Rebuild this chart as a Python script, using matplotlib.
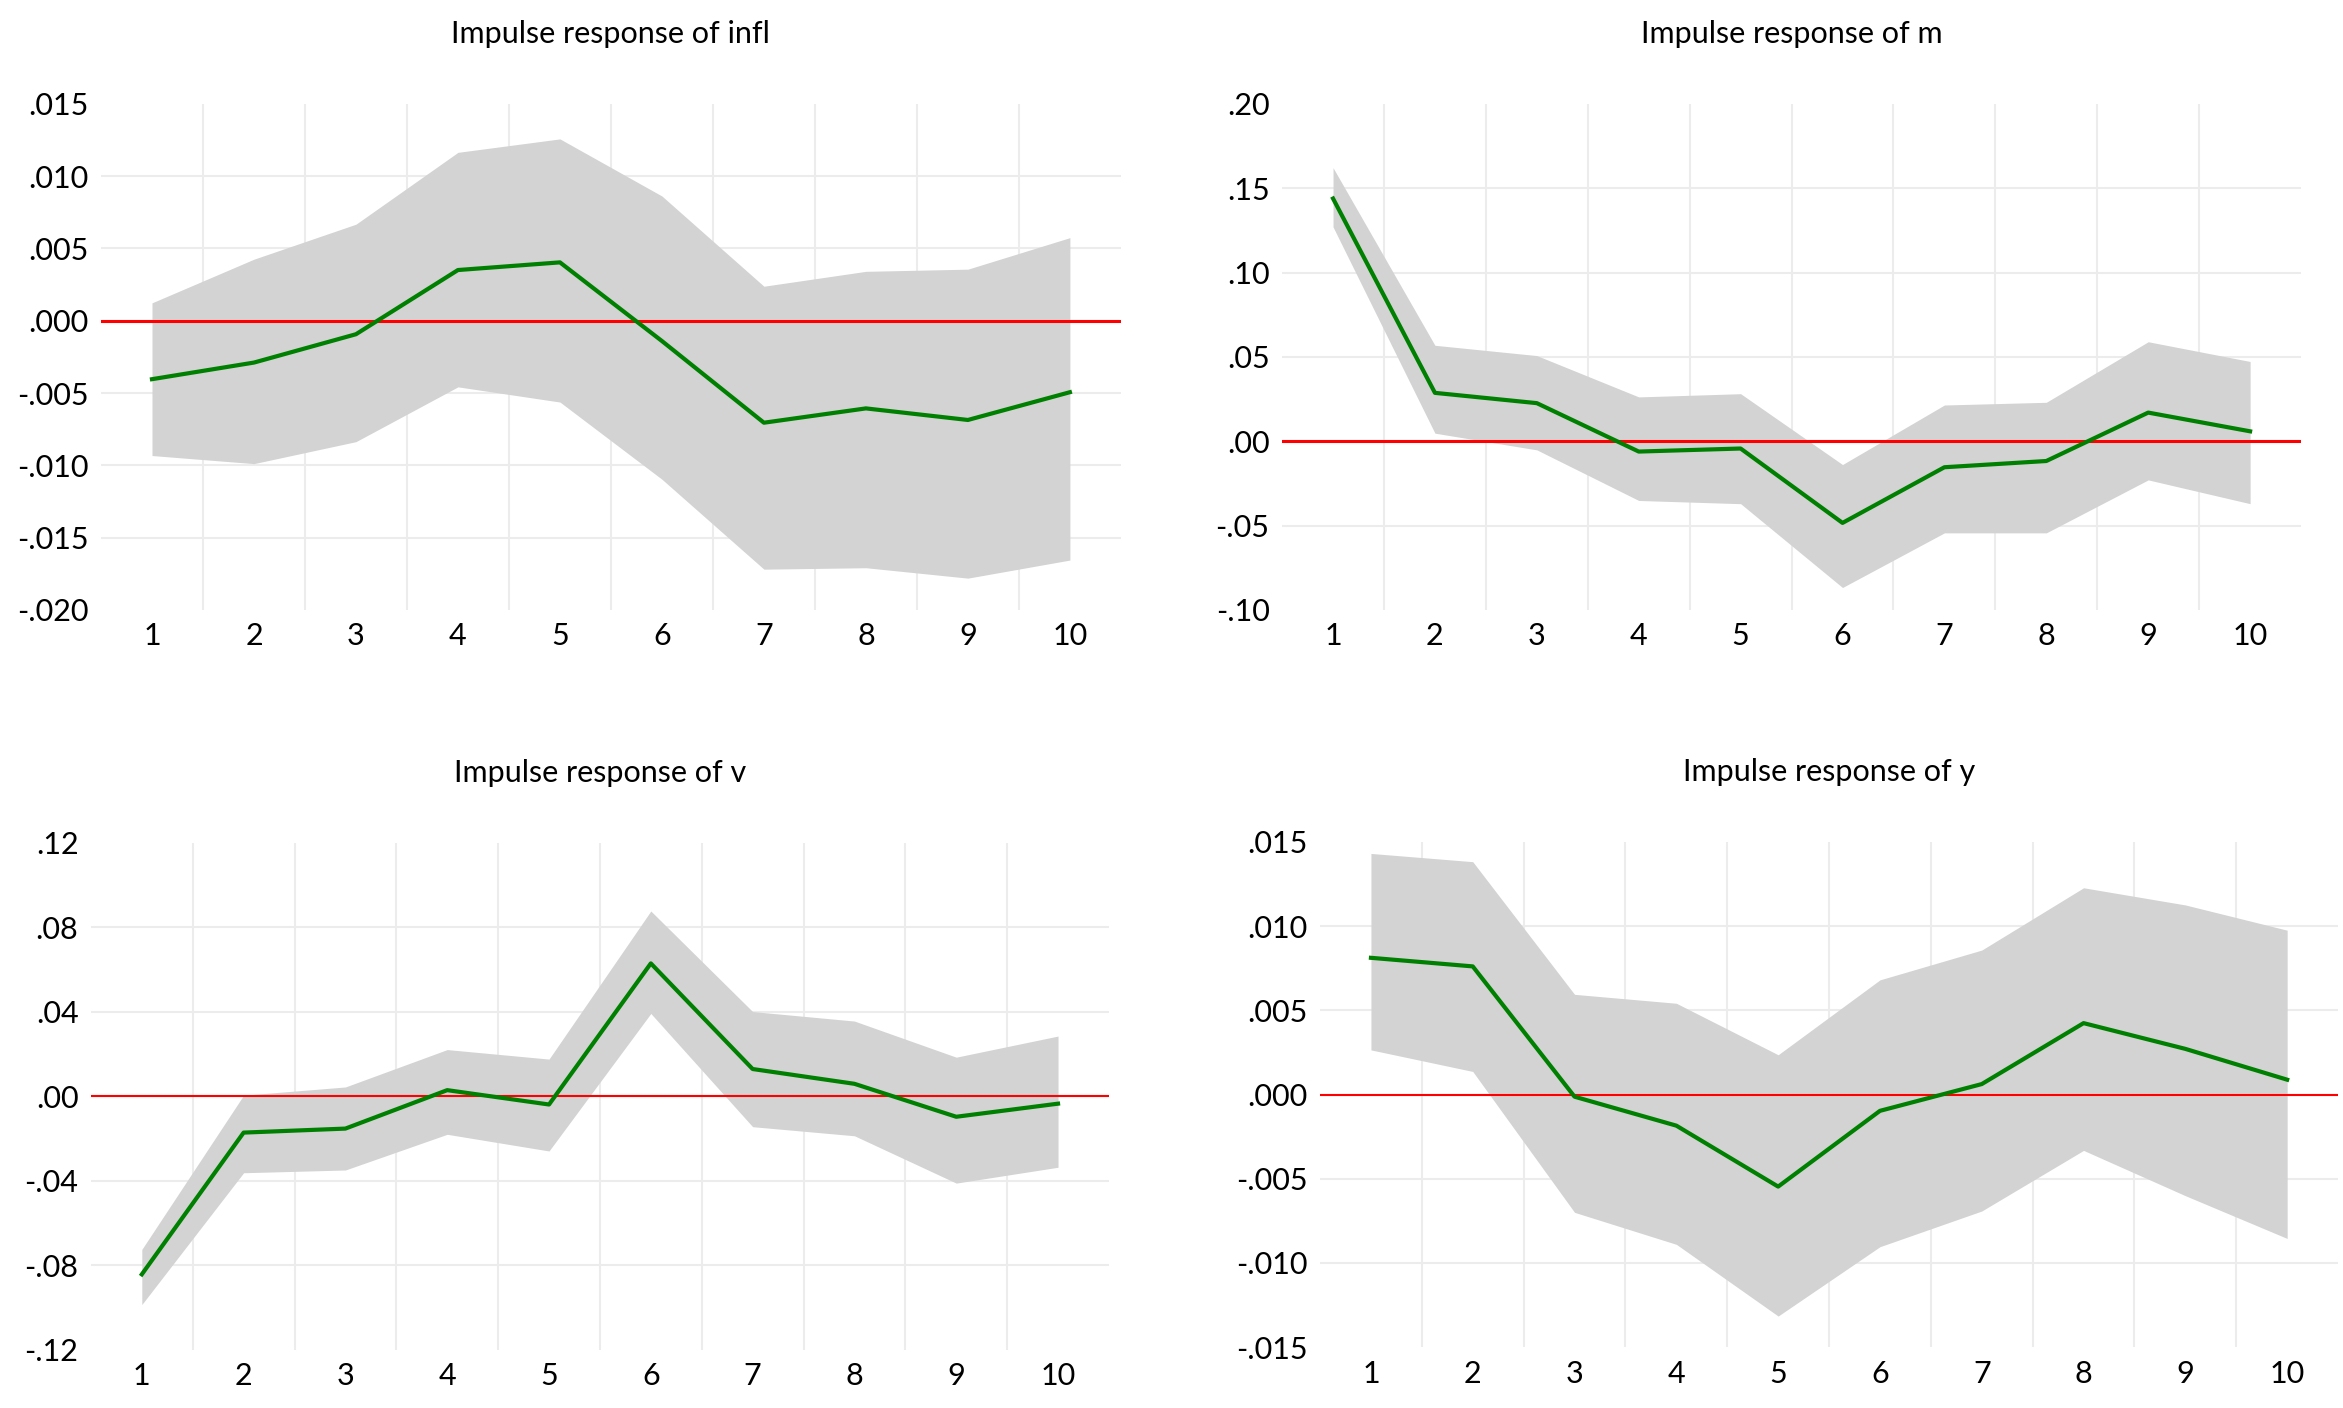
import matplotlib
matplotlib.use("Agg")
import matplotlib.pyplot as plt
from matplotlib.ticker import FuncFormatter

plt.rcParams['font.family'] = ['Lato', 'DejaVu Sans']

periods = [1, 2, 3, 4, 5, 6, 7, 8, 9, 10]

# impulse response of infl
infl_resp = [-0.00404, -0.00289, -0.00093, 0.00351, 0.00404, -0.00140, -0.00705, -0.00606, -0.00686, -0.00494]
infl_upper = [0.00124, 0.00426, 0.00668, 0.01165, 0.01258, 0.00863, 0.00239, 0.00342, 0.00357, 0.00575]
infl_lower = [-0.00932, -0.00988, -0.00836, -0.00457, -0.00562, -0.01096, -0.01718, -0.01708, -0.01780, -0.01655]

# impulse response of m
m_resp = [0.1439, 0.0287, 0.0226, -0.0061, -0.0043, -0.0484, -0.0154, -0.0117, 0.0170, 0.0059]
m_upper = [0.1622, 0.0569, 0.0508, 0.0263, 0.0282, -0.0138, 0.0215, 0.0231, 0.0590, 0.0473]
m_lower = [0.1271, 0.0048, -0.0051, -0.0351, -0.0370, -0.0867, -0.0543, -0.0543, -0.0229, -0.0370]

# impulse response of v
v_resp = [-0.0842, -0.0171, -0.0152, 0.0030, -0.0038, 0.0630, 0.0130, 0.0060, -0.0096, -0.0034]
v_upper = [-0.0724, 0.0006, 0.0045, 0.0222, 0.0177, 0.0878, 0.0402, 0.0357, 0.0186, 0.0286]
v_lower = [-0.0985, -0.0361, -0.0348, -0.0179, -0.0258, 0.0393, -0.0143, -0.0186, -0.0410, -0.0335]

# impulse response of y
y_resp = [0.00812, 0.00761, -0.00013, -0.00185, -0.00547, -0.00097, 0.00062, 0.00424, 0.00271, 0.00088]
y_upper = [0.01432, 0.01383, 0.00595, 0.00542, 0.00236, 0.00681, 0.00858, 0.01228, 0.01126, 0.00976]
y_lower = [0.00265, 0.00137, -0.00700, -0.00890, -0.01316, -0.00904, -0.00692, -0.00332, -0.00601, -0.00855]

infl_ticks = [-0.020, -0.015, -0.010, -0.005, 0.000, 0.005, 0.010, 0.015]
m_ticks = [-0.10, -0.05, 0.00, 0.05, 0.10, 0.15, 0.20]
v_ticks = [-0.12, -0.08, -0.04, 0.00, 0.04, 0.08, 0.12]
y_ticks = [-0.015, -0.010, -0.005, 0.000, 0.005, 0.010, 0.015]


def short_fmt(decimals):
    def f(val, pos):
        s = f"{val:.{decimals}f}"
        if s.startswith("-0"):
            s = "-" + s[2:]
        elif s.startswith("0"):
            s = s[1:]
        return s
    return FuncFormatter(f)


def draw_panel(ax, title, resp, upper, lower, ticks, decimals, red_lw):
    ax.set_xlim(0.5, 10.5)
    ax.set_ylim(ticks[0], ticks[-1])
    for xv in range(1, 10):
        ax.axvline(xv + 0.5, color='#ececec', lw=1.5, zorder=0)
    for yv in ticks[1:-1]:
        ax.axhline(yv, color='#ececec', lw=1.5, zorder=0)
    ax.fill_between(periods, lower, upper, color='#d3d3d3', lw=0, zorder=1)
    ax.axhline(0, color='#ff0000', lw=red_lw, zorder=2)
    ax.plot(periods, resp, color='#008000', lw=3.0, zorder=3)
    ax.set_xticks(periods)
    ax.set_yticks(ticks)
    ax.yaxis.set_major_formatter(short_fmt(decimals))
    ax.tick_params(length=0, labelsize=22)
    ax.tick_params(axis='y', pad=9)
    ax.tick_params(axis='x', pad=9)
    for sp in ax.spines.values():
        sp.set_visible(False)
    ax.set_title(title, fontsize=22, pad=44)


fig = plt.figure(figsize=(23.43, 14.08), dpi=100)
ax1 = fig.add_axes([0.0431, 0.5668, 0.4353, 0.3594])
ax2 = fig.add_axes([0.5472, 0.5668, 0.4349, 0.3594])
ax3 = fig.add_axes([0.0388, 0.0412, 0.4345, 0.3601])
ax4 = fig.add_axes([0.5634, 0.0433, 0.4345, 0.3587])

draw_panel(ax1, "Impulse response of infl", infl_resp, infl_upper, infl_lower, infl_ticks, 3, 2.2)
draw_panel(ax2, "Impulse response of m", m_resp, m_upper, m_lower, m_ticks, 2, 2.2)
draw_panel(ax3, "Impulse response of v", v_resp, v_upper, v_lower, v_ticks, 2, 1.5)
draw_panel(ax4, "Impulse response of y", y_resp, y_upper, y_lower, y_ticks, 3, 1.5)

fig.savefig("out.png", dpi=100)
